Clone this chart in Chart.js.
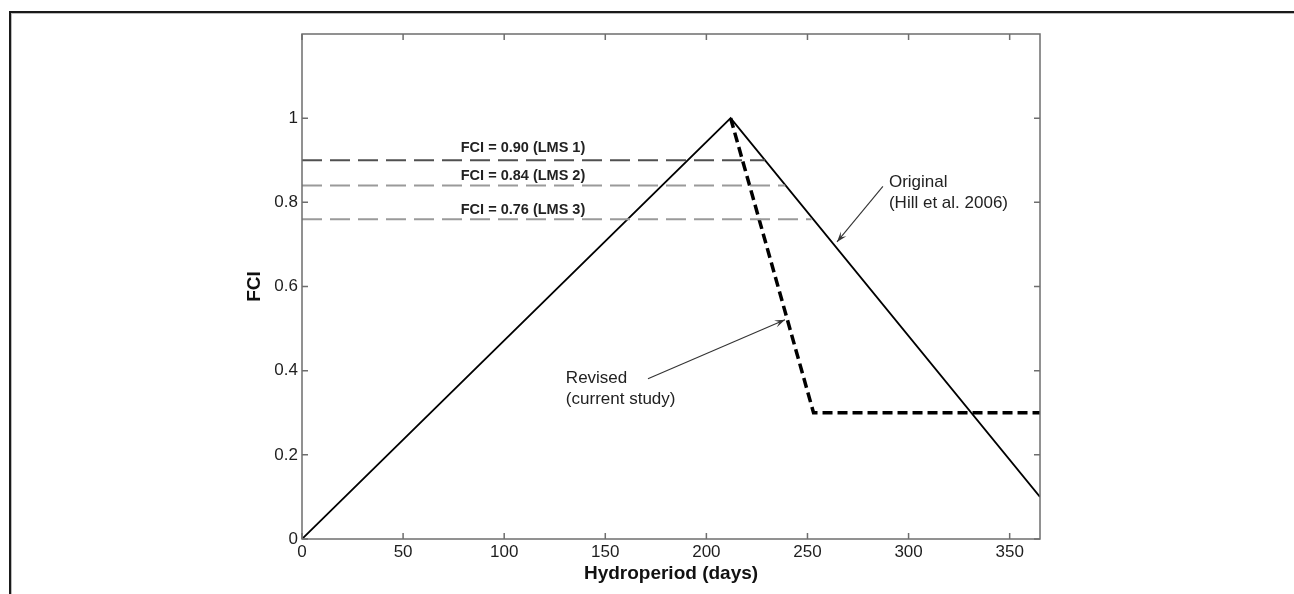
<!DOCTYPE html>
<html>
<head>
<meta charset="utf-8">
<script src="https://cdn.jsdelivr.net/npm/chart.js@4.4.1/dist/chart.umd.min.js"></script>
<style>
  html, body { margin: 0; padding: 0; background: #fff; overflow: hidden; }
  #wrap { position: relative; width: 1294px; height: 594px; }
  #frame { position: absolute; left: 9px; top: 11px; width: 1300px; height: 600px;
           border-left: 2px solid #1a1a1a; border-top: 2px solid #1a1a1a;
           box-shadow: inset 1px 1px 0 #bbb; pointer-events: none; }
  canvas { position: absolute; left: 0; top: 0; }
</style>
</head>
<body>
<div id="wrap">
  <canvas id="c" width="1294" height="594"></canvas>
  <div id="frame"></div>
</div>
<script>
// ---- Data ----
const originalX = [0, 212, 365];
const originalY = [0, 1.0, 0.10];

const revisedX = [212, 253, 365];
const revisedY = [1.0, 0.30, 0.30];

const thresholdValues = [0.90, 0.84, 0.76];
const thresholdEndX = [229, 239, 252];
const thresholdLabels = ['FCI = 0.90 (LMS 1)', 'FCI = 0.84 (LMS 2)', 'FCI = 0.76 (LMS 3)'];
const thresholdColors = ['#505050', '#9a9a9a', '#9a9a9a'];

const xTicks = [0, 50, 100, 150, 200, 250, 300, 350];
const yTicks = [0, 0.2, 0.4, 0.6, 0.8, 1.0];

const xTitle = 'Hydroperiod (days)';
const yTitle = 'FCI';

const FONT = '"Liberation Sans", Arial, Helvetica, sans-serif';

function pts(xs, ys) { return xs.map((x, i) => ({ x: x, y: ys[i] })); }

const datasets = [];
thresholdValues.forEach((v, i) => {
  datasets.push({
    label: thresholdLabels[i],
    data: [{ x: 0, y: v }, { x: thresholdEndX[i], y: v }],
    borderColor: thresholdColors[i],
    borderWidth: 2,
    borderDash: [20, 8],
    pointRadius: 0,
    fill: false
  });
});
datasets.push({
  label: 'Original (Hill et al. 2006)',
  data: pts(originalX, originalY),
  borderColor: '#000',
  borderWidth: 1.8,
  pointRadius: 0,
  fill: false
});
datasets.push({
  label: 'Revised (current study)',
  data: pts(revisedX, revisedY),
  borderColor: '#000',
  borderWidth: 3.5,
  borderDash: [10, 5],
  pointRadius: 0,
  fill: false
});

// Annotation texts in data coordinates
const textNotes = [
  { lines: ['Original', '(Hill et al. 2006)'], x: 290.3, y: 0.848, dy: 21 },
  { lines: ['Revised', '(current study)'], x: 130.5, y: 0.381, dy: 21 }
];
const arrows = [
  { from: [287.3, 0.838], to: [264.6, 0.706] },
  { from: [171.1, 0.381], to: [238.9, 0.521] }
];
const labelYs = [0.929, 0.862, 0.782];
const labelX = 109.3;

const framePlugin = {
  id: 'framePlugin',
  afterDatasetsDraw(chart) {
    const { ctx, chartArea: a, scales: { x, y } } = chart;
    ctx.save();
    // plot box
    ctx.strokeStyle = '#6e6e6e';
    ctx.lineWidth = 1.5;
    ctx.strokeRect(a.left, a.top, a.right - a.left, a.bottom - a.top);
    // inward ticks
    const tl = 6;
    ctx.beginPath();
    xTicks.forEach(t => {
      const px = x.getPixelForValue(t);
      ctx.moveTo(px, a.bottom); ctx.lineTo(px, a.bottom - tl);
      ctx.moveTo(px, a.top); ctx.lineTo(px, a.top + tl);
    });
    yTicks.forEach(t => {
      const py = y.getPixelForValue(t);
      ctx.moveTo(a.left, py); ctx.lineTo(a.left + tl, py);
      ctx.moveTo(a.right, py); ctx.lineTo(a.right - tl, py);
    });
    ctx.stroke();

    // threshold labels
    ctx.fillStyle = '#222';
    ctx.font = 'bold 14.5px ' + FONT;
    ctx.textAlign = 'center';
    ctx.textBaseline = 'middle';
    thresholdLabels.forEach((t, i) => {
      ctx.fillText(t, x.getPixelForValue(labelX), y.getPixelForValue(labelYs[i]));
    });

    // notes
    ctx.font = '17px ' + FONT;
    ctx.textAlign = 'left';
    textNotes.forEach(n => {
      const px = x.getPixelForValue(n.x), py = y.getPixelForValue(n.y);
      n.lines.forEach((l, k) => ctx.fillText(l, px, py + k * n.dy));
    });

    // arrows
    ctx.strokeStyle = '#333';
    ctx.fillStyle = '#333';
    ctx.lineWidth = 1.1;
    arrows.forEach(ar => {
      const x1 = x.getPixelForValue(ar.from[0]), y1 = y.getPixelForValue(ar.from[1]);
      const x2 = x.getPixelForValue(ar.to[0]), y2 = y.getPixelForValue(ar.to[1]);
      ctx.beginPath();
      ctx.moveTo(x1, y1); ctx.lineTo(x2, y2);
      ctx.stroke();
      const ang = Math.atan2(y2 - y1, x2 - x1);
      const h = 11, sp = 0.33, back = 6;
      ctx.beginPath();
      ctx.moveTo(x2, y2);
      ctx.lineTo(x2 - h * Math.cos(ang - sp), y2 - h * Math.sin(ang - sp));
      ctx.lineTo(x2 - back * Math.cos(ang), y2 - back * Math.sin(ang));
      ctx.lineTo(x2 - h * Math.cos(ang + sp), y2 - h * Math.sin(ang + sp));
      ctx.closePath();
      ctx.fill();
    });
    ctx.restore();
  }
};

new Chart(document.getElementById('c'), {
  type: 'line',
  data: { datasets: datasets },
  options: {
    responsive: false,
    animation: false,
    events: [],
    layout: { padding: { left: 0, top: 34, right: 254, bottom: 0 } },
    plugins: { legend: { display: false }, tooltip: { enabled: false } },
    elements: { line: { tension: 0 } },
    scales: {
      x: {
        type: 'linear',
        min: 0, max: 365,
        afterBuildTicks(s) { s.ticks = xTicks.map(v => ({ value: v })); },
        afterFit(s) { s.height = 55; },
        grid: { display: false, drawTicks: false },
        border: { display: false },
        ticks: { color: '#1e1e1e', font: { family: FONT, size: 17 }, padding: 3, maxRotation: 0,
                 callback: v => String(v) },
        title: { display: true, text: xTitle, color: '#111',
                 font: { family: FONT, size: 19, weight: 'bold' }, padding: { top: 0, bottom: 9 } }
      },
      y: {
        type: 'linear',
        min: 0, max: 1.2,
        afterBuildTicks(s) { s.ticks = yTicks.map(v => ({ value: v })); },
        afterFit(s) { s.width = 302; },
        grid: { display: false, drawTicks: false },
        border: { display: false },
        ticks: { color: '#1e1e1e', font: { family: FONT, size: 17 }, padding: 4,
                 callback: v => String(Math.round(v * 10) / 10) },
        title: { display: true, text: yTitle, color: '#111',
                 font: { family: FONT, size: 19, weight: 'bold' }, padding: { top: 243, bottom: 0 } }
      }
    }
  },
  plugins: [framePlugin]
});
</script>
</body>
</html>
